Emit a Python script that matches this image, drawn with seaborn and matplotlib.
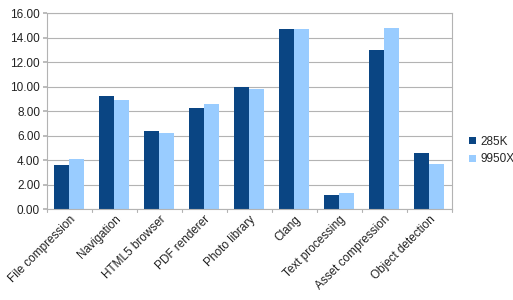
import matplotlib
matplotlib.use("Agg")
import matplotlib.pyplot as plt
import seaborn as sns
import pandas as pd

categories = ["File compression", "Navigation", "HTML5 browser", "PDF renderer",
              "Photo library", "Clang", "Text processing", "Asset compression",
              "Object detection"]
series_names = ["285K", "9950X"]
vals_285k = [3.59, 9.25, 6.42, 8.24, 10.0, 14.69, 1.19, 13.0, 4.62]
vals_9950x = [4.10, 8.92, 6.20, 8.57, 9.79, 14.69, 1.36, 14.82, 3.70]
yticks = [0, 2, 4, 6, 8, 10, 12, 14, 16]

df = pd.DataFrame({
    "cat": categories * 2,
    "series": [series_names[0]] * len(categories) + [series_names[1]] * len(categories),
    "value": vals_285k + vals_9950x,
})

sns.set_theme(style="white")
plt.rcParams["font.family"] = ["Liberation Sans", "DejaVu Sans"]

fig = plt.figure(figsize=(5.13, 3.0), dpi=100)
ax = fig.add_axes([0.0916, 0.302, 0.789, 0.654])

sns.barplot(data=df, x="cat", y="value", hue="series", ax=ax,
            palette=["#0a4583", "#99ccff"], width=0.667, saturation=1,
            edgecolor="none", linewidth=0, legend=True)

ax.set_ylim(0, 16)
ax.set_xlim(-0.5, len(categories) - 0.5)
ax.set_yticks(yticks)
ax.set_yticklabels([f"{v:.2f}" for v in yticks], fontsize=8.5, color="#222222")
ax.set_axisbelow(True)
ax.yaxis.grid(True, color="#b3b3b3", linewidth=0.8)
ax.xaxis.grid(False)
ax.set_xlabel("")
ax.set_ylabel("")

ax.set_xticks([i for i in range(len(categories))])
ax.set_xticklabels(categories, rotation=45, ha="right", rotation_mode="anchor",
                   fontsize=8.5, color="#222222")
ax.tick_params(axis="x", length=0, pad=3)
for i in range(len(categories) + 1):
    ax.plot([i - 0.5, i - 0.5], [0, -0.25], color="#b3b3b3", lw=0.8, clip_on=False)
ax.tick_params(axis="y", length=3, color="#b3b3b3", pad=2, left=True)

for s in ax.spines.values():
    s.set_color("#b3b3b3")
    s.set_linewidth(0.8)

leg = ax.legend(loc="center left", bbox_to_anchor=(1.03, 0.30), frameon=False,
                fontsize=8.5, handlelength=0.6, handleheight=0.6,
                handletextpad=0.4, labelspacing=0.5, borderaxespad=0)

fig.savefig("out.png", dpi=100)
